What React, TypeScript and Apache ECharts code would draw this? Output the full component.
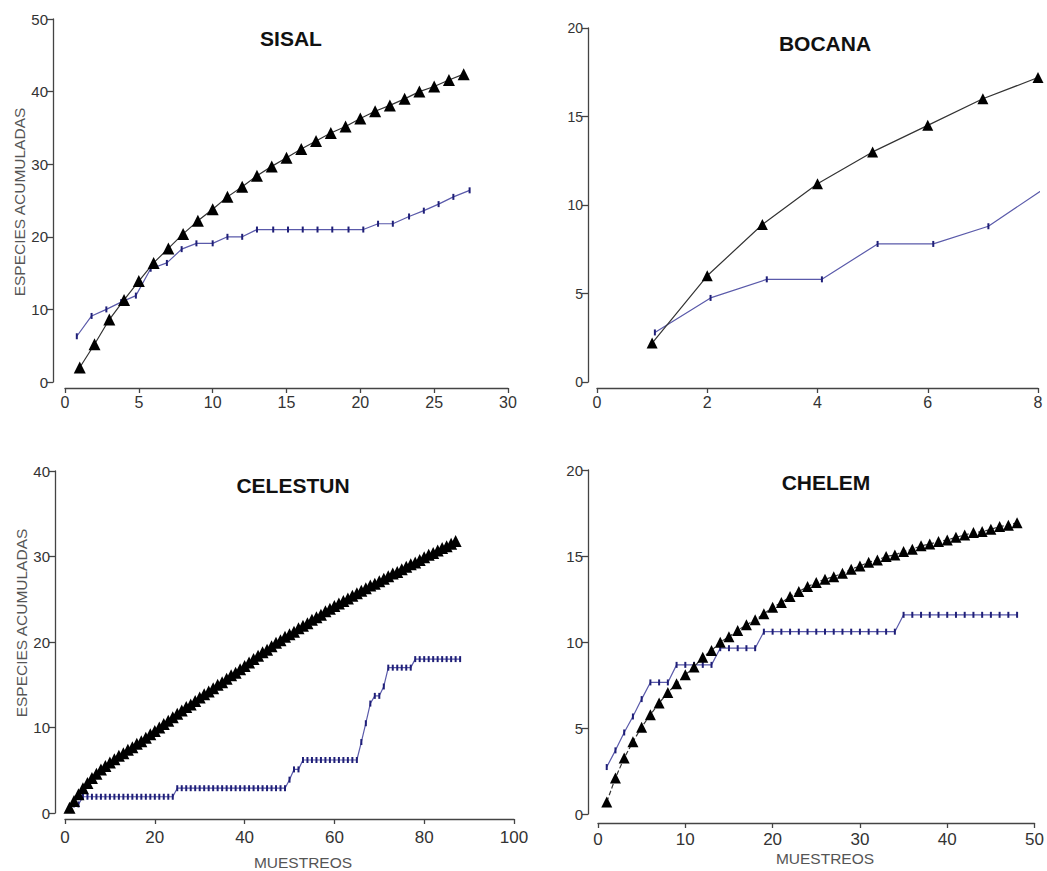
import React, { useEffect, useRef } from "react";
import * as echarts from "echarts";

// ---------- SISAL ----------
const sisalSamples = [1, 2, 3, 4, 5, 6, 7, 8, 9, 10, 11, 12, 13, 14, 15, 16, 17, 18, 19, 20, 21, 22, 23, 24, 25, 26, 27];
const sisalEstimated = [2.0, 5.2, 8.6, 11.3, 13.9, 16.4, 18.4, 20.4, 22.2, 23.8, 25.5, 26.9, 28.4, 29.7, 30.9, 32.1, 33.2, 34.3, 35.2, 36.3, 37.3, 38.1, 39.0, 40.0, 40.7, 41.6, 42.4];
const sisalObsSamples = [0.8, 1.8, 2.8, 3.8, 4.8, 5.8, 6.9, 7.9, 8.9, 10.0, 11.0, 12.0, 13.0, 14.1, 15.1, 16.1, 17.1, 18.1, 19.2, 20.2, 21.2, 22.2, 23.3, 24.3, 25.3, 26.3, 27.4];
const sisalObserved = [6.3, 9.1, 10.0, 11.0, 11.9, 15.6, 16.4, 18.3, 19.1, 19.1, 20.0, 20.0, 21.0, 21.0, 21.0, 21.0, 21.0, 21.0, 21.0, 21.0, 21.8, 21.8, 22.8, 23.6, 24.5, 25.5, 26.4];

// ---------- BOCANA ----------
const bocanaSamples = [1, 2, 3, 4, 5, 6, 7, 8];
const bocanaEstimated = [2.2, 6.0, 8.9, 11.2, 13.0, 14.5, 16.0, 17.2];
const bocanaObsSamples = [1.05, 2.06, 3.08, 4.08, 5.09, 6.1, 7.1, 8.1];
const bocanaObserved = [2.8, 4.75, 5.8, 5.8, 7.8, 7.8, 8.8, 10.9];

// ---------- CELESTUN ----------
const celestunEstimated = [
  0.6, 1.4, 2.2, 2.9, 3.5, 4.1, 4.6, 5.1, 5.5, 5.9,
  6.3, 6.7, 7.0, 7.4, 7.7, 8.1, 8.4, 8.8, 9.2, 9.6,
  10.0, 10.4, 10.8, 11.2, 11.6, 12.0, 12.4, 12.7, 13.1, 13.5,
  13.9, 14.2, 14.6, 15.0, 15.3, 15.7, 16.1, 16.4, 16.8, 17.2,
  17.6, 18.0, 18.4, 18.8, 19.1, 19.5, 19.9, 20.2, 20.6, 20.9,
  21.2, 21.6, 21.9, 22.2, 22.6, 22.9, 23.2, 23.6, 23.9, 24.2,
  24.5, 24.8, 25.1, 25.4, 25.7, 26.0, 26.3, 26.6, 26.8, 27.1,
  27.4, 27.7, 28.0, 28.2, 28.5, 28.8, 29.1, 29.3, 29.6, 29.9,
  30.2, 30.4, 30.7, 31.0, 31.2, 31.5, 31.8,
];
const celestunObserved = [
  0.4, 1.0, 1.0, 1.9, 1.9, 1.9, 1.9, 1.9, 1.9, 1.9,
  1.9, 1.9, 1.9, 1.9, 1.9, 1.9, 1.9, 1.9, 1.9, 1.9,
  1.9, 1.9, 1.9, 1.9, 2.9, 2.9, 2.9, 2.9, 2.9, 2.9,
  2.9, 2.9, 2.9, 2.9, 2.9, 2.9, 2.9, 2.9, 2.9, 2.9,
  2.9, 2.9, 2.9, 2.9, 2.9, 2.9, 2.9, 2.9, 2.9, 3.9,
  5.1, 5.1, 6.2, 6.2, 6.2, 6.2, 6.2, 6.2, 6.2, 6.2,
  6.2, 6.2, 6.2, 6.2, 6.2, 8.3, 10.5, 12.8, 13.7, 13.7,
  14.8, 17.0, 17.0, 17.0, 17.0, 17.0, 17.0, 18.0, 18.0, 18.0,
  18.0, 18.0, 18.0, 18.0, 18.0, 18.0, 18.0, 18.0,
];

// ---------- CHELEM ----------
const chelemEstimated = [
  0.7, 2.1, 3.25, 4.2, 5.05, 5.77, 6.45, 7.07, 7.57, 8.09,
  8.54, 9.12, 9.5, 9.99, 10.3, 10.67, 11.0, 11.29, 11.64, 12.02,
  12.29, 12.64, 12.93, 13.22, 13.46, 13.65, 13.8, 14.0, 14.23, 14.42,
  14.64, 14.77, 14.97, 15.06, 15.26, 15.39, 15.59, 15.7, 15.84, 15.93,
  16.09, 16.22, 16.36, 16.42, 16.55, 16.71, 16.79, 16.94,
];
const chelemObserved = [
  2.73, 3.7, 4.74, 5.67, 6.68, 7.65, 7.65, 7.65, 8.67, 8.67,
  8.67, 8.67, 8.67, 9.64, 9.64, 9.64, 9.64, 9.64, 10.6, 10.6,
  10.6, 10.6, 10.6, 10.6, 10.6, 10.6, 10.6, 10.6, 10.6, 10.6,
  10.6, 10.6, 10.6, 10.6, 11.58, 11.58, 11.58, 11.58, 11.58, 11.58,
  11.58, 11.58, 11.58, 11.58, 11.58, 11.58, 11.58, 11.58,
];

const titles = ["SISAL", "BOCANA", "CELESTUN", "CHELEM"];
const yAxisName = "ESPECIES ACUMULADAS";
const xAxisName = "MUESTREOS";

const pairs = (xs: number[], ys: number[]) => ys.map((y, i) => [xs[i], y]);
const indexPairs = (ys: number[]) => ys.map((y, i) => [i + 1, y]);

const FONT = "'Liberation Sans', Arial, sans-serif";
const NARROW = "'Liberation Sans Narrow', 'Arial Narrow', 'Liberation Sans', Arial, sans-serif";

const panels = [
  {
    grid: { left: 65, top: 19, width: 443, height: 363 },
    xMax: 30, xInt: 5, yMax: 50, yInt: 10, xOff: 6, yOff: 12,
    est: pairs(sisalSamples, sisalEstimated),
    obs: pairs(sisalObsSamples, sisalObserved),
    tri: 12, dashed: false, xFont: 16, yFont: 15, yFam: FONT, xMargin: 6,
  },
  {
    grid: { left: 597, top: 28, width: 441, height: 354 },
    xMax: 8, xInt: 2, yMax: 20, yInt: 5, xOff: 6, yOff: 9,
    est: pairs(bocanaSamples, bocanaEstimated),
    obs: pairs(bocanaObsSamples, bocanaObserved),
    tri: 11, dashed: false, xFont: 16, yFont: 14, yFam: FONT, xMargin: 6,
  },
  {
    grid: { left: 65, top: 471, width: 449, height: 342 },
    xMax: 100, xInt: 20, yMax: 40, yInt: 10, xOff: 6, yOff: 10,
    est: indexPairs(celestunEstimated),
    obs: indexPairs(celestunObserved),
    tri: 12, dashed: false, xFont: 17, yFont: 15, yFam: NARROW, xMargin: 10,
  },
  {
    grid: { left: 598, top: 470, width: 438, height: 344 },
    xMax: 50, xInt: 10, yMax: 20, yInt: 5, xOff: 9, yOff: 10,
    est: indexPairs(chelemEstimated),
    obs: indexPairs(chelemObserved),
    tri: 11, dashed: true, xFont: 17, yFont: 15, yFam: NARROW, xMargin: 8,
  },
];

const axisColor = "#444";
const labelColor = "#333";

const option: any = {
  animation: false,
  backgroundColor: "#fff",
  grid: panels.map((p) => ({ ...p.grid, containLabel: false })),
  xAxis: panels.map((p, i) => ({
    type: "value",
    gridIndex: i,
    min: 0,
    max: p.xMax,
    interval: p.xInt,
    offset: p.xOff,
    splitLine: { show: false },
    axisLine: { show: true, onZero: false, lineStyle: { color: axisColor, width: 1.3 } },
    axisTick: { show: true, length: 5, lineStyle: { color: axisColor, width: 1.3 } },
    axisLabel: {
      color: labelColor,
      fontSize: p.xFont,
      fontFamily: NARROW,
      margin: p.xMargin,
      showMaxLabel: true,
      showMinLabel: true,
    },
  })),
  yAxis: panels.map((p, i) => ({
    type: "value",
    gridIndex: i,
    min: 0,
    max: p.yMax,
    interval: p.yInt,
    offset: p.yOff,
    splitLine: { show: false },
    axisLine: { show: true, onZero: false, lineStyle: { color: axisColor, width: 1.3 } },
    axisTick: { show: true, length: 6, lineStyle: { color: axisColor, width: 1.3 } },
    axisLabel: {
      color: labelColor,
      fontSize: p.yFont,
      fontFamily: p.yFam,
      margin: 5,
    },
  })),
  series: panels.flatMap((p, i) => [
    {
      type: "line",
      name: "Estimadas",
      xAxisIndex: i,
      yAxisIndex: i,
      data: p.est,
      symbol: "triangle",
      symbolSize: p.tri,
      showAllSymbol: true,
      itemStyle: { color: "#000" },
      lineStyle: { color: "#333", width: 1.2, type: p.dashed ? "dashed" : "solid" },
      z: 3,
    },
    {
      type: "line",
      name: "Observadas",
      xAxisIndex: i,
      yAxisIndex: i,
      data: p.obs,
      symbol: "rect",
      symbolSize: [2, 6],
      showAllSymbol: true,
      itemStyle: { color: "#1f1f78" },
      lineStyle: { color: "#5a5aaa", width: 1.2 },
      z: 2,
    },
  ]),
  graphic: [
    ...[
      [291, 38],
      [825, 43],
      [293, 485],
      [826, 482],
    ].map(([x, y], i) => ({
      type: "text",
      x,
      y,
      style: {
        text: titles[i],
        fontSize: 21,
        fontWeight: "bold",
        fontFamily: FONT,
        fill: "#111",
        align: "center",
        verticalAlign: "middle",
      },
    })),
    ...[
      [19, 202],
      [21, 623],
    ].map(([x, y]) => ({
      type: "text",
      x,
      y,
      rotation: Math.PI / 2,
      style: {
        text: yAxisName,
        fontSize: 15.5,
        fontFamily: FONT,
        fill: "#555",
        align: "center",
        verticalAlign: "middle",
      },
    })),
    ...[
      [303, 862],
      [825, 858],
    ].map(([x, y]) => ({
      type: "text",
      x,
      y,
      style: {
        text: xAxisName,
        fontSize: 15.5,
        fontFamily: FONT,
        fill: "#555",
        align: "center",
        verticalAlign: "middle",
      },
    })),
  ],
};

export default function App() {
  const ref = useRef<HTMLDivElement>(null);
  useEffect(() => {
    document.body.style.margin = "0";
    const chart = echarts.init(ref.current!, null, { renderer: "svg" });
    chart.setOption(option);
    return () => chart.dispose();
  }, []);
  return <div ref={ref} style={{ width: 1047, height: 871, background: "#fff" }} />;
}
